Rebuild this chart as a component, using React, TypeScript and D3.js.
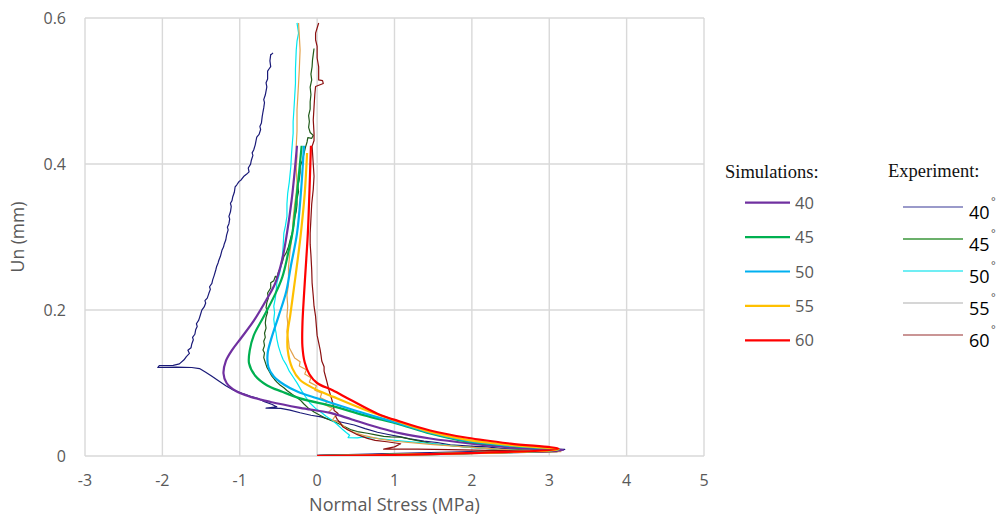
import React from "react";
import * as d3 from "d3";

// axis ticks
const xTicks = [-3, -2, -1, 0, 1, 2, 3, 4, 5];
const yTicks = [0, 0.2, 0.4, 0.6];

// simulation curves [normal stress MPa, Un mm]
const sim40 = [[0, 0], [1.5, 0.003], [3.18, 0.008], [2.6, 0.011], [2.0, 0.017], [1.46, 0.024], [1.08, 0.031], [0.82, 0.038], [0.45, 0.05], [0.17, 0.059], [-0.22, 0.066], [-0.6, 0.074], [-0.86, 0.081], [-1.05, 0.089], [-1.17, 0.1], [-1.21, 0.113], [-1.18, 0.13], [-1.1, 0.145], [-0.98, 0.162], [-0.82, 0.185], [-0.65, 0.215], [-0.54, 0.237], [-0.45, 0.27], [-0.39, 0.305], [-0.33, 0.35], [-0.29, 0.39], [-0.26, 0.425]];
const sim45 = [[0, 0], [1.6, 0.003], [3.12, 0.009], [2.5, 0.014], [1.94, 0.02], [1.46, 0.031], [1.08, 0.043], [0.6, 0.056], [0.21, 0.068], [-0.22, 0.079], [-0.45, 0.088], [-0.65, 0.097], [-0.8, 0.11], [-0.88, 0.127], [-0.87, 0.145], [-0.82, 0.165], [-0.69, 0.191], [-0.55, 0.22], [-0.45, 0.245], [-0.37, 0.28], [-0.32, 0.305], [-0.26, 0.36], [-0.2, 0.425]];
const sim50 = [[0, 0], [1.6, 0.003], [3.12, 0.009], [2.5, 0.014], [1.94, 0.021], [1.46, 0.032], [1.08, 0.044], [0.5, 0.062], [0.0, 0.079], [-0.25, 0.088], [-0.43, 0.098], [-0.56, 0.109], [-0.63, 0.122], [-0.64, 0.14], [-0.6, 0.158], [-0.5, 0.191], [-0.4, 0.225], [-0.34, 0.26], [-0.26, 0.305], [-0.21, 0.36], [-0.17, 0.425]];
const sim55 = [[0, 0], [1.6, 0.003], [3.12, 0.009], [2.5, 0.015], [1.94, 0.022], [1.46, 0.033], [1.08, 0.046], [0.6, 0.064], [0.21, 0.081], [-0.05, 0.093], [-0.22, 0.104], [-0.32, 0.12], [-0.38, 0.145], [-0.38, 0.17], [-0.35, 0.191], [-0.3, 0.23], [-0.25, 0.27], [-0.21, 0.305], [-0.16, 0.36], [-0.13, 0.415]];
const sim60 = [[0, 0], [1.6, 0.003], [3.12, 0.01], [2.5, 0.017], [1.94, 0.025], [1.46, 0.035], [1.08, 0.047], [0.78, 0.058], [0.43, 0.077], [0.2, 0.09], [0.0, 0.1], [-0.1, 0.112], [-0.16, 0.128], [-0.19, 0.15], [-0.19, 0.18], [-0.17, 0.22], [-0.14, 0.27], [-0.12, 0.305], [-0.1, 0.36], [-0.08, 0.425]];

// experiment curves
const exp40 = [[0.0, 0.001], [1.2, 0.004], [2.4, 0.007], [3.2, 0.009], [3.05, 0.0095], [2.85, 0.0102], [2.62, 0.0108], [2.37, 0.0105], [2.2, 0.0125], [1.98, 0.0135], [1.72, 0.0152], [1.55, 0.0185], [1.38, 0.0205], [1.2, 0.0235], [1.08, 0.0262], [0.92, 0.0295], [0.78, 0.0325], [0.62, 0.0375], [0.48, 0.0425], [0.32, 0.0462], [0.18, 0.0493], [0.05, 0.0535], [-0.08, 0.0558], [-0.22, 0.0592], [-0.35, 0.0628], [-0.47, 0.0652], [-0.66, 0.0655], [-0.52, 0.0672], [-0.58, 0.0705], [-0.68, 0.0745], [-0.76, 0.0785], [-0.86, 0.0818], [-0.97, 0.0858], [-1.08, 0.0902], [-1.18, 0.0962], [-1.28, 0.1035], [-1.36, 0.1092], [-1.44, 0.1148], [-1.52, 0.1198], [-1.62, 0.1212], [-1.82, 0.1218], [-2.06, 0.1212], [-2.04, 0.1238], [-1.86, 0.1242], [-1.78, 0.1262], [-1.72, 0.1318], [-1.69, 0.1362], [-1.65, 0.1405], [-1.67, 0.1448], [-1.63, 0.1482], [-1.62, 0.1535], [-1.6, 0.1592], [-1.61, 0.1625], [-1.58, 0.1668], [-1.57, 0.1728], [-1.55, 0.1775], [-1.56, 0.1812], [-1.53, 0.1862], [-1.51, 0.1928], [-1.49, 0.1998], [-1.46, 0.2042], [-1.44, 0.2095], [-1.45, 0.2128], [-1.42, 0.2162], [-1.4, 0.2225], [-1.38, 0.2282], [-1.39, 0.2318], [-1.36, 0.2365], [-1.35, 0.2412], [-1.33, 0.2475], [-1.31, 0.2548], [-1.3, 0.2592], [-1.28, 0.2645], [-1.27, 0.2682], [-1.25, 0.2735], [-1.23, 0.2818], [-1.21, 0.2862], [-1.2, 0.2905], [-1.18, 0.2962], [-1.17, 0.3025], [-1.15, 0.3098], [-1.16, 0.3135], [-1.14, 0.3182], [-1.13, 0.3245], [-1.14, 0.3282], [-1.12, 0.3345], [-1.11, 0.3418], [-1.12, 0.3462], [-1.1, 0.3498], [-1.09, 0.3552], [-1.07, 0.3612], [-1.06, 0.3685], [-1.04, 0.3712], [-1.01, 0.3758], [-0.98, 0.3785], [-0.95, 0.3828], [-0.91, 0.3862], [-0.88, 0.3892], [-0.89, 0.3945], [-0.86, 0.3998], [-0.85, 0.4052], [-0.83, 0.4118], [-0.84, 0.4152], [-0.82, 0.4192], [-0.8, 0.4262], [-0.79, 0.4318], [-0.78, 0.4368], [-0.75, 0.4405], [-0.73, 0.4472], [-0.74, 0.4515], [-0.72, 0.4562], [-0.71, 0.4648], [-0.7, 0.4712], [-0.69, 0.4768], [-0.68, 0.4842], [-0.69, 0.4882], [-0.67, 0.4945], [-0.65, 0.5058], [-0.66, 0.5112], [-0.64, 0.5165], [-0.64, 0.5272], [-0.62, 0.5305], [-0.6, 0.5335], [-0.61, 0.5412], [-0.6, 0.5498], [-0.59, 0.5502], [-0.57, 0.5522]];
const exp45 = [[0.0, 0.0005], [1.3, 0.003], [2.5, 0.006], [3.1, 0.0075], [2.75, 0.0082], [2.37, 0.0088], [2.1, 0.011], [1.8, 0.0135], [1.5, 0.0168], [1.28, 0.0215], [1.08, 0.0258], [0.95, 0.0262], [0.86, 0.0268], [0.74, 0.0292], [0.65, 0.0312], [0.52, 0.0335], [0.43, 0.0362], [0.34, 0.0412], [0.26, 0.0452], [0.18, 0.0488], [0.1, 0.0522], [0.03, 0.0562], [-0.04, 0.0602], [-0.12, 0.0662], [-0.17, 0.0712], [-0.22, 0.0768], [-0.27, 0.0808], [-0.32, 0.0842], [-0.39, 0.0898], [-0.43, 0.0935], [-0.48, 0.0972], [-0.52, 0.1012], [-0.55, 0.1048], [-0.59, 0.1102], [-0.62, 0.1162], [-0.65, 0.1218], [-0.67, 0.1282], [-0.69, 0.1348], [-0.68, 0.1412], [-0.7, 0.1452], [-0.68, 0.1512], [-0.69, 0.1572], [-0.67, 0.1625], [-0.68, 0.1682], [-0.66, 0.1752], [-0.67, 0.1822], [-0.66, 0.1902], [-0.64, 0.1972], [-0.66, 0.2032], [-0.65, 0.2102], [-0.63, 0.2162], [-0.64, 0.2232], [-0.6, 0.2302], [-0.6, 0.2372], [-0.56, 0.2402], [-0.54, 0.2462], [-0.52, 0.2442], [-0.5, 0.2522], [-0.47, 0.2592], [-0.45, 0.2652], [-0.43, 0.2732], [-0.4, 0.2782], [-0.37, 0.2868], [-0.35, 0.2952], [-0.33, 0.3032], [-0.31, 0.3102], [-0.3, 0.3182], [-0.29, 0.3262], [-0.27, 0.3352], [-0.26, 0.3442], [-0.26, 0.3522], [-0.24, 0.3622], [-0.25, 0.3702], [-0.23, 0.3792], [-0.22, 0.3882], [-0.22, 0.3962], [-0.19, 0.4052], [-0.17, 0.4142], [-0.15, 0.4232], [-0.13, 0.4302], [-0.12, 0.4362], [-0.07, 0.4352], [-0.05, 0.4392], [-0.09, 0.4432], [-0.11, 0.4502], [-0.1, 0.4582], [-0.11, 0.4662], [-0.09, 0.4752], [-0.09, 0.4852], [-0.08, 0.4952], [-0.09, 0.5052], [-0.07, 0.5152], [-0.08, 0.5232], [-0.065, 0.5332], [-0.06, 0.5422], [-0.05, 0.5502], [-0.04, 0.5582]];
const exp50 = [[0.0, 0.0003], [1.5, 0.0025], [3.1, 0.006], [2.6, 0.0075], [2.0, 0.0115], [1.5, 0.0165], [1.0, 0.0215], [0.75, 0.0245], [0.6, 0.0262], [0.52, 0.0248], [0.4, 0.0252], [0.42, 0.0285], [0.38, 0.0318], [0.33, 0.0362], [0.26, 0.0432], [0.19, 0.0492], [0.12, 0.0542], [0.06, 0.0592], [-0.02, 0.0652], [-0.09, 0.0722], [-0.15, 0.0812], [-0.2, 0.0892], [-0.26, 0.1002], [-0.31, 0.1082], [-0.36, 0.1162], [-0.4, 0.1252], [-0.44, 0.1322], [-0.47, 0.1402], [-0.5, 0.1502], [-0.52, 0.1602], [-0.53, 0.1682], [-0.55, 0.1782], [-0.56, 0.1872], [-0.55, 0.1962], [-0.56, 0.2052], [-0.54, 0.2162], [-0.53, 0.2262], [-0.52, 0.2372], [-0.49, 0.2482], [-0.47, 0.2582], [-0.45, 0.2732], [-0.44, 0.2862], [-0.43, 0.3052], [-0.41, 0.3152], [-0.39, 0.3282], [-0.39, 0.3452], [-0.38, 0.3602], [-0.36, 0.3752], [-0.34, 0.3962], [-0.33, 0.4152], [-0.31, 0.4422], [-0.31, 0.4582], [-0.3, 0.4742], [-0.29, 0.4922], [-0.28, 0.5102], [-0.28, 0.5302], [-0.27, 0.5562], [-0.26, 0.5682], [-0.24, 0.5792], [-0.26, 0.5932]];
const exp55 = [[0.0, 0.0002], [1.6, 0.0025], [3.15, 0.006], [2.6, 0.0075], [2.0, 0.0118], [1.5, 0.0155], [1.0, 0.0202], [0.8, 0.0235], [0.6, 0.0282], [0.48, 0.0322], [0.39, 0.0362], [0.33, 0.0422], [0.28, 0.0462], [0.2, 0.0492], [0.24, 0.0562], [0.15, 0.0602], [0.2, 0.0652], [0.1, 0.0702], [0.13, 0.0752], [0.04, 0.0802], [0.06, 0.0862], [-0.03, 0.0902], [-0.01, 0.0962], [-0.1, 0.1012], [-0.08, 0.1072], [-0.16, 0.1122], [-0.14, 0.1182], [-0.23, 0.1232], [-0.22, 0.1292], [-0.29, 0.1342], [-0.32, 0.1402], [-0.36, 0.1482], [-0.37, 0.1582], [-0.39, 0.1702], [-0.38, 0.1822], [-0.39, 0.1912], [-0.38, 0.2052], [-0.39, 0.2202], [-0.37, 0.2352], [-0.37, 0.2592], [-0.35, 0.2802], [-0.32, 0.3052], [-0.31, 0.3252], [-0.29, 0.3452], [-0.27, 0.3602], [-0.26, 0.3732], [-0.27, 0.3952], [-0.26, 0.4102], [-0.27, 0.4242], [-0.26, 0.4452], [-0.26, 0.4742], [-0.25, 0.4922], [-0.24, 0.5102], [-0.23, 0.5302], [-0.22, 0.5562], [-0.23, 0.5752], [-0.24, 0.5932]];
const exp60 = [[0.0, 0.001], [1.4, 0.003], [2.3, 0.0048], [3.1, 0.006], [2.7, 0.0068], [2.2, 0.0078], [1.7, 0.0088], [1.3, 0.0094], [0.86, 0.0094], [1.0, 0.0125], [1.08, 0.0168], [0.9, 0.0195], [0.75, 0.0215], [0.65, 0.0242], [0.52, 0.0292], [0.39, 0.0362], [0.33, 0.0402], [0.3, 0.0452], [0.26, 0.0502], [0.24, 0.0542], [0.27, 0.0582], [0.22, 0.0622], [0.21, 0.0692], [0.19, 0.0772], [0.17, 0.0842], [0.15, 0.0912], [0.13, 0.1002], [0.11, 0.1082], [0.09, 0.1162], [0.09, 0.1222], [0.06, 0.1302], [0.05, 0.1382], [0.04, 0.1452], [0.02, 0.1552], [0.0, 0.1652], [-0.01, 0.1782], [-0.02, 0.1912], [-0.04, 0.2052], [-0.05, 0.2192], [-0.065, 0.2372], [-0.07, 0.2552], [-0.08, 0.2752], [-0.09, 0.2902], [-0.09, 0.3052], [-0.08, 0.3252], [-0.07, 0.3452], [-0.05, 0.3652], [-0.04, 0.3832], [-0.05, 0.4002], [-0.065, 0.4242], [-0.04, 0.4322], [-0.04, 0.4422], [-0.05, 0.4602], [-0.04, 0.4782], [-0.03, 0.4952], [-0.02, 0.5062], [0.08, 0.5102], [0.07, 0.5142], [0.02, 0.5152], [0.02, 0.5252], [0.02, 0.5332], [0.0, 0.5452], [0.0, 0.5612], [-0.02, 0.5702], [-0.02, 0.5792], [0.02, 0.5932]];

const simLabels = ["40", "45", "50", "55", "60"];
const simColors = ["#7030a0", "#00b050", "#00b0f0", "#ffc000", "#ff0000"];
const simData = [sim40, sim45, sim50, sim55, sim60];

const expLabels = ["40", "45", "50", "55", "60"];
const expColors = ["#1a1a78", "#1f5a18", "#00e8f0", "#e3a24c", "#8b1010"];
const expLegendColors = ["#7878b8", "#3a963a", "#40e8f0", "#c8c8c8", "#b87272"];
const expData = [exp40, exp45, exp50, exp55, exp60];

const W = 999;
const H = 517;
const left = 85, right = 704, top = 18, bottom = 456;
const sans = "'Open Sans', 'DejaVu Sans', sans-serif";
const serif = "'Liberation Serif', 'Times New Roman', serif";
const grey = "#595959";

export default function App() {
  const x = d3.scaleLinear().domain([-3, 5]).range([left, right]);
  const y = d3.scaleLinear().domain([0, 0.6]).range([bottom, top]);

  const expLine = d3.line<number[]>().x(d => x(d[0])).y(d => y(d[1]));
  const simLine = d3
    .line<number[]>()
    .x(d => x(d[0]))
    .y(d => y(d[1]))
    .curve(d3.curveCatmullRom.alpha(0.5));

  return (
    <svg width={W} height={H} style={{ position: "absolute", left: 0, top: 0, background: "#fff" }}>
      <defs>
        <clipPath id="plot">
          <rect x={left} y={top - 2} width={right - left} height={bottom - top + 2} />
        </clipPath>
      </defs>

      {/* grid */}
      {xTicks.map(t => (
        <line key={"gx" + t} x1={x(t)} x2={x(t)} y1={top} y2={bottom} stroke="#d9d9d9" strokeWidth={1.4} />
      ))}
      {yTicks.map(t => (
        <line key={"gy" + t} x1={left} x2={right} y1={y(t)} y2={y(t)} stroke="#d9d9d9" strokeWidth={1.4} />
      ))}

      {/* tick labels */}
      {xTicks.map(t => (
        <text key={"tx" + t} x={x(t)} y={486} textAnchor="middle" fontFamily={sans} fontSize={16} fill={grey}>
          {String(t)}
        </text>
      ))}
      {yTicks.map(t => (
        <text key={"ty" + t} x={66} y={y(t) + 5.6} textAnchor="end" fontFamily={sans} fontSize={16} fill={grey}>
          {String(t)}
        </text>
      ))}

      <text x={(left + right) / 2} y={511} textAnchor="middle" fontFamily={sans} fontSize={18} fill={grey}>
        Normal Stress (MPa)
      </text>
      <text
        transform={`translate(24,${(top + bottom) / 2}) rotate(-90)`}
        textAnchor="middle"
        fontFamily={sans}
        fontSize={17.5}
        fill={grey}
      >
        Un (mm)
      </text>

      <g clipPath="url(#plot)">
        {expData.map((d, i) => (
          <path key={"e" + i} d={expLine(d) || ""} fill="none" stroke={expColors[i]} strokeWidth={1.2} strokeLinejoin="round" />
        ))}
        {simData.map((d, i) => (
          <path key={"s" + i} d={simLine(d) || ""} fill="none" stroke={simColors[i]} strokeWidth={2.2} strokeLinejoin="round" />
        ))}
      </g>

      {/* legend: simulations */}
      <text x={725} y={178} fontFamily={serif} fontSize={18.5} fill="#111">
        Simulations:
      </text>
      {simLabels.map((s, i) => {
        const ly = 202.7 + i * 34.4;
        return (
          <g key={"ls" + i}>
            <line x1={745} x2={790} y1={ly} y2={ly} stroke={simColors[i]} strokeWidth={2.2} />
            <text x={795} y={ly + 6} fontFamily={sans} fontSize={16.5} fill={grey}>
              {s}
            </text>
          </g>
        );
      })}

      {/* legend: experiment */}
      <text x={888} y={177} fontFamily={serif} fontSize={18.5} fill="#111">
        Experiment:
      </text>
      {expLabels.map((s, i) => {
        const ly = 207 + i * 32;
        return (
          <g key={"le" + i}>
            <line x1={903} x2={963} y1={ly} y2={ly} stroke={expLegendColors[i]} strokeWidth={1.3} />
            <text x={969} y={ly + 11.5} fontFamily={sans} fontSize={18} fill="#000">
              {s}
            </text>
            <text x={991} y={ly - 2} fontFamily={sans} fontSize={11} fill="#555">
              °
            </text>
          </g>
        );
      })}
    </svg>
  );
}
